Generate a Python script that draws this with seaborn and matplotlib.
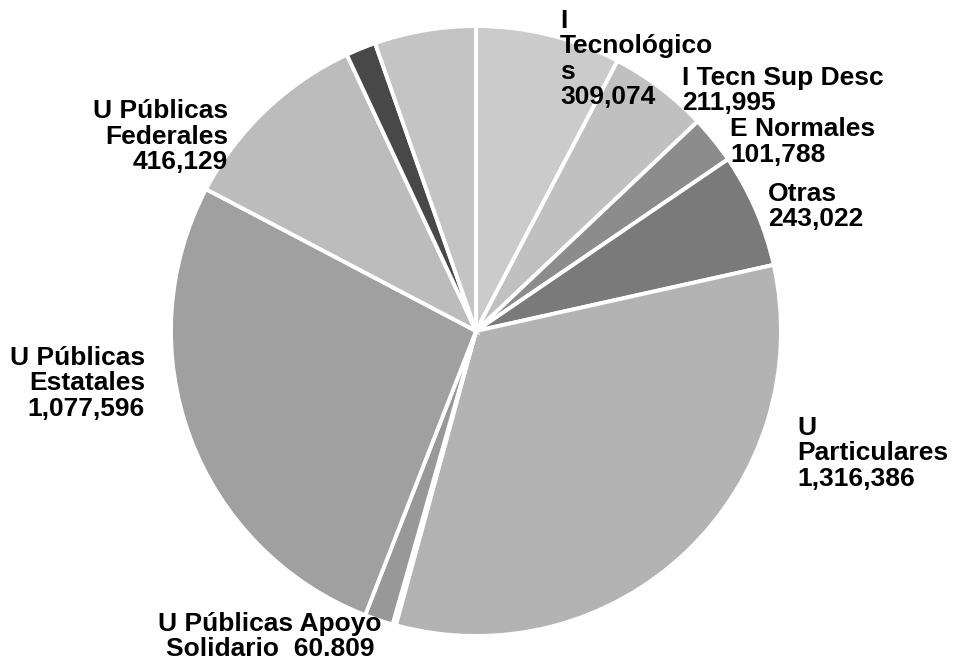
import matplotlib
matplotlib.use("Agg")
import matplotlib.pyplot as plt
import seaborn as sns

# slices in drawing order, clockwise from 12 o'clock
categories = ["I Tecnológicos", "I Tecn Sup Desc", "E Normales", "Otras",
              "U Particulares", "sin etiqueta a", "U Públicas Apoyo Solidario",
              "U Públicas Estatales", "U Públicas Federales",
              "sin etiqueta b", "sin etiqueta c"]
values = [309074, 211995, 101788, 243022, 1316386, 7000, 60809,
          1077596, 416129, 64000, 216000]
# how each label is written on the chart (None = no label)
label_names = ["I\nTecnológico\ns", "I Tecn Sup Desc", "E Normales", "Otras",
               "U\nParticulares", None, "U Públicas Apoyo\nSolidario",
               "U Públicas\nEstatales", "U Públicas\nFederales", None, None]
gray_levels = ["#cbcbcb", "#c0c0c0", "#8c8c8c", "#7a7a7a", "#b3b3b3", "#4e4e4e",
               "#989898", "#a0a0a0", "#bcbcbc", "#484848", "#c4c4c4"]

sns.set_style("white")
plt.rcParams['font.family'] = ['Liberation Sans', 'DejaVu Sans']

W, H = 956, 670
fig = plt.figure(figsize=(W / 100, H / 100), dpi=100)
ax = fig.add_axes([0, 0, 1, 1])

# pie centre / radius in pixel units
cx, cy, r = 476, 331, 305
ax.pie(values, colors=gray_levels, startangle=90, counterclock=False,
       center=(cx, H - cy), radius=r,
       wedgeprops=dict(edgecolor="white", linewidth=2.8))
ax.set_xlim(0, W)
ax.set_ylim(0, H)
ax.set_aspect("equal")
ax.axis("off")

# label anchor (x, top y, alignment) in pixels
label_pos = [(560, 9, "left"), (682, 66, "left"), (730, 117, "left"),
             (768, 182, "left"), (797, 416, "left"), None, (270, 612, "center"),
             (145, 346, "right"), (228, 99, "right"), None, None]
pitch = 25.5

for name, v, pos in zip(label_names, values, label_pos):
    if name is None:
        continue
    if "Apoyo" in name:
        txt = name + "  " + f"{v:,}".replace(",", ".")
    else:
        txt = name + "\n" + f"{v:,}"
    x, y, ha = pos
    # one text per line so the line pitch matches the scan
    for i, line in enumerate(txt.split("\n")):
        ax.text(x, H - (y + i * pitch), line, ha=ha, va="top",
                fontsize=19, fontweight="bold", color="black")

fig.savefig("out.png", dpi=100, facecolor="white")
